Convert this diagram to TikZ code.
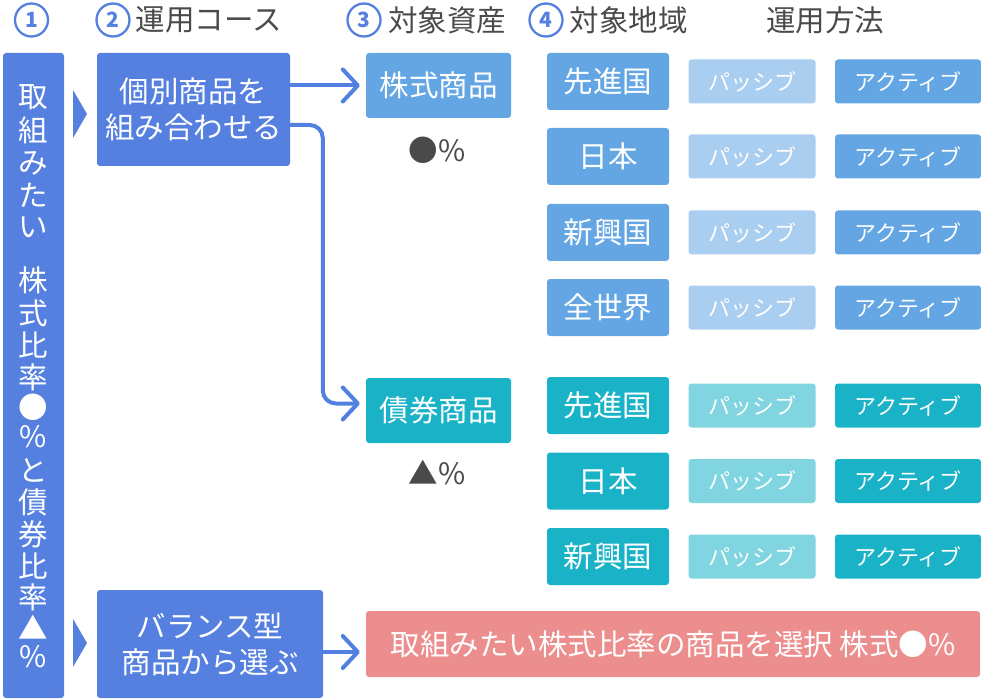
\documentclass[tikz,border=0pt]{standalone}
\usepackage{fontspec}
\setmainfont{Noto Sans CJK JP}
\usetikzlibrary{arrows.meta}
\definecolor{mainblue}{HTML}{5580E0}
\definecolor{arrowblue}{HTML}{5280E0}
\definecolor{stockblue}{HTML}{63A6E3}
\definecolor{passblue}{HTML}{AACEF0}
\definecolor{bondteal}{HTML}{19B2C7}
\definecolor{passteal}{HTML}{80D5E0}
\definecolor{pinkbox}{HTML}{EC8D8E}
\definecolor{txtgray}{HTML}{4A4A4A}
\tikzset{
  big/.style={font=\fontsize{29.5}{36}\selectfont},
  small/.style={font=\fontsize{22}{26}\selectfont},
  boxbase/.style={rounded corners=3pt, inner sep=0pt, text=white, align=center},
  mainbox/.style={boxbase, fill=mainblue, big},
  stockbox/.style={boxbase, fill=stockblue, big},
  bondbox/.style={boxbase, fill=bondteal, big},
  pinkb/.style={boxbase, fill=pinkbox, big},
  regbox/.style={boxbase, big, minimum width=122pt, minimum height=57pt},
  mthbox/.style={boxbase, small, minimum height=44pt},
  hdr/.style={text=txtgray, big, inner sep=0pt},
  numc/.style={circle, draw=mainblue, line width=2.3pt, minimum size=33pt, inner sep=0pt, text=mainblue, font=\bfseries\fontsize{21}{21}\selectfont},
  barch/.style={text=white, big, inner sep=0pt},
  pct/.style={text=txtgray, big, inner sep=0pt},
  conn/.style={draw=arrowblue, line width=4pt, line cap=round, line join=round,
    -{Straight Barb[length=15pt,width=32pt,round]}},
}
\begin{document}
\begin{tikzpicture}[x=1pt,y=-1pt]
\useasboundingbox (0,0) rectangle (981,700);

% header
\foreach \n/\x in {1/31.5,2/113,3/364,4/546}{
  \node[numc] (c\n) at (\x,20) {\n};
}
\node[hdr] (h2) at (209,20) {運用コース};
\node[hdr] (h3) at (447,20) {対象資産};
\node[hdr] (h4) at (628.5,20) {対象地域};
\node[hdr] (h5) at (825,20) {運用方法};

% left bar
\node[mainbox, minimum width=61pt, minimum height=645pt] (bar) at (33.5,375.5) {};
\foreach \i/\y/\c in {1/97/取,2/130/組,3/163/み,4/195/た,5/227/い,6/280/株,7/313/式,8/345/比,9/377/率,10/407/●,11/437/\%,12/470/と,13/502/債,14/534/券,15/566/比,16/597/率,17/627/▲,18/657/\%}{
  \node[barch] (lb\i) at (33.5,\y) {\c};
}

% pointers
\fill[mainblue] (73,90) -- (87,114) -- (73,138) -- cycle;
\fill[mainblue] (73,619) -- (87,643) -- (73,667) -- cycle;

% course boxes
\node[mainbox, minimum width=193pt, minimum height=113pt] (b1) at (193.5,109.5) {個別商品を\\組み合わせる};
\node[mainbox, minimum width=226pt, minimum height=108pt] (bal) at (210,644) {バランス型\\商品から選ぶ};

% asset boxes
\node[stockbox, minimum width=145pt, minimum height=65pt] (stock) at (438.5,85.5) {株式商品};
\node[bondbox, minimum width=145pt, minimum height=65pt] (bond) at (438.5,410.5) {債券商品};
\node[pct] (sp) at (437,150) {●\%};
\node[pct] (bp) at (437,473) {▲\%};

% pink result
\node[pinkb, minimum width=614pt, minimum height=66pt] (pink) at (673,644) {取組みたい株式比率の商品を選択 株式●\%};

% connectors
\draw[conn, shorten >=6pt] (b1.east |- stock.west) -- (stock.west);
\draw[conn, rounded corners=13pt] ([yshift=-15.5pt]b1.east) -| ([xshift=-43pt,yshift=7pt]bond.west) -- ([xshift=-6pt,yshift=7pt]bond.west);
\draw[conn, shorten >=6pt] ([yshift=-8pt]bal.east) -- ([yshift=-8pt]pink.west);

% region rows (stocks)
\foreach \n/\y/\t in {1/81.5/先進国,2/156.5/日本,3/232.5/新興国,4/307.5/全世界}{
  \node[regbox, fill=stockblue] (sr\n) at (608,\y) {\t};
  \node[mthbox, fill=passblue, minimum width=127pt] (sp\n) at (752,\y) {パッシブ};
  \node[mthbox, fill=stockblue, minimum width=146pt] (sa\n) at (908,\y) {アクティブ};
}
% region rows (bonds)
\foreach \n/\y/\t in {1/405.5/先進国,2/481/日本,3/556.5/新興国}{
  \node[regbox, fill=bondteal] (br\n) at (608,\y) {\t};
  \node[mthbox, fill=passteal, minimum width=127pt] (bpa\n) at (752,\y) {パッシブ};
  \node[mthbox, fill=bondteal, minimum width=146pt] (ba\n) at (908,\y) {アクティブ};
}
\end{tikzpicture}
\end{document}
